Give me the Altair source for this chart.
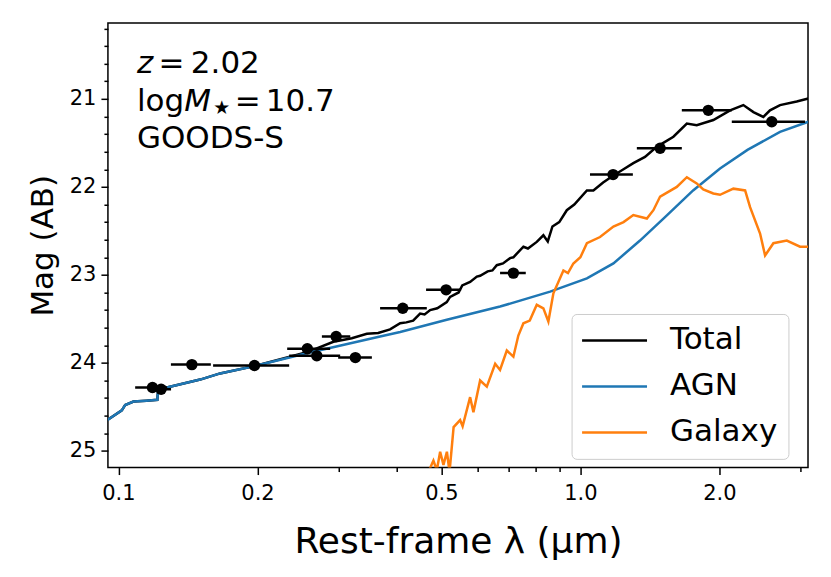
import altair as alt
import pandas as pd

# ---------------- data ----------------
agn_wave = [0.094, 0.1017, 0.1034, 0.1078, 0.1150, 0.1214, 0.1218, 0.1273, 0.1503, 0.166,
            0.1993, 0.2557, 0.3685, 0.4073, 0.5138, 0.6701, 0.860, 1.033, 1.179, 1.346,
            1.541, 1.754, 2.006, 2.30, 2.705, 3.115]
agn_mag = [24.66, 24.54, 24.48, 24.44, 24.43, 24.42, 24.32, 24.28, 24.19, 24.12,
           24.03, 23.89, 23.70, 23.65, 23.51, 23.36, 23.19, 23.04, 22.87, 22.61,
           22.32, 22.04, 21.79, 21.58, 21.375, 21.26]

total_wave = [0.094, 0.1017, 0.1034, 0.1078, 0.1150, 0.1214, 0.1218, 0.1273, 0.1503, 0.166,
              0.1993, 0.2557, 0.2920, 0.3200, 0.3450, 0.3650, 0.3873, 0.4073, 0.4200, 0.4345,
              0.4498, 0.4600, 0.4729, 0.4900, 0.5138, 0.5224, 0.5450, 0.5550, 0.5772, 0.5969,
              0.6067, 0.6300, 0.6450, 0.6592, 0.6800, 0.7043, 0.7161, 0.7528, 0.7700, 0.8046,
              0.8316, 0.8500, 0.8700, 0.9000, 0.9346, 0.9700, 1.033, 1.067, 1.120, 1.179,
              1.240, 1.302, 1.380, 1.463, 1.590, 1.700, 1.786, 1.940, 2.109, 2.253,
              2.369, 2.489, 2.573, 2.705, 2.940, 3.115]
total_mag = [24.66, 24.54, 24.48, 24.44, 24.43, 24.42, 24.32, 24.28, 24.19, 24.12,
             24.03, 23.88, 23.76, 23.72, 23.67, 23.66, 23.62, 23.55, 23.54, 23.52,
             23.44, 23.45, 23.40, 23.38, 23.31, 23.25, 23.20, 23.12, 23.08, 23.02,
             23.01, 22.96, 22.95, 22.89, 22.87, 22.81, 22.80, 22.68, 22.70, 22.625,
             22.55, 22.62, 22.45, 22.40, 22.265, 22.20, 22.04, 22.04, 21.95, 21.87,
             21.80, 21.73, 21.66, 21.545, 21.43, 21.28, 21.30, 21.24, 21.13, 21.07,
             21.15, 21.205, 21.13, 21.07, 21.03, 20.995]

gal_wave = [0.4651, 0.4807, 0.4889, 0.4971, 0.5054, 0.5141, 0.5209, 0.5316, 0.5491, 0.5560,
            0.5772, 0.5868, 0.6067, 0.6273, 0.6540, 0.6700, 0.6930, 0.7161, 0.7340, 0.7528,
            0.7770, 0.8046, 0.8316, 0.8525, 0.8741, 0.9189, 0.9400, 0.9656, 1.000, 1.033,
            1.103, 1.179, 1.240, 1.302, 1.393, 1.439, 1.488, 1.617, 1.700, 1.786,
            1.845, 1.940, 2.006, 2.144, 2.273, 2.330, 2.449, 2.511, 2.617, 2.798,
            2.989, 3.115]
gal_mag = [25.28, 25.11, 25.22, 25.01, 25.16, 25.01, 25.24, 24.73, 24.65, 24.72,
           24.39, 24.56, 24.20, 24.27, 24.01, 24.08, 23.86, 23.93, 23.69, 23.55,
           23.52, 23.34, 23.38, 23.53, 23.21, 22.95, 22.98, 22.87, 22.80, 22.64,
           22.57, 22.45, 22.40, 22.32, 22.36, 22.265, 22.11, 22.00, 21.89, 21.96,
           22.03, 22.075, 22.09, 22.02, 22.04, 22.23, 22.53, 22.78, 22.64, 22.61,
           22.68, 22.68]

pt_wave = [0.1185, 0.1237, 0.1442, 0.1970, 0.2564, 0.2688, 0.2960, 0.3258, 0.4126, 0.5121,
           0.7161, 1.177, 1.488, 1.892, 2.596]
pt_mag = [24.28, 24.30, 24.02, 24.03, 23.84, 23.92, 23.70, 23.94, 23.38, 23.17,
          22.98, 21.86, 21.56, 21.13, 21.26]
pt_lo = [0.1087, 0.1171, 0.1299, 0.1603, 0.2319, 0.2342, 0.2757, 0.2990, 0.3685, 0.4634,
         0.6701, 1.049, 1.325, 1.658, 2.127]
pt_hi = [0.1275, 0.1300, 0.1585, 0.2342, 0.2873, 0.3020, 0.3176, 0.3537, 0.4651, 0.5518,
         0.7617, 1.299, 1.658, 2.127, 3.064]

series_names = ["Total", "AGN", "Galaxy"]
series_colors = ["#000000", "#1f77b4", "#ff7f0e"]

x_domain = [0.0949, 3.11]
y_domain = [20.136, 25.19]
x_ticks = [0.1, 0.2, 0.3, 0.4, 0.5, 0.6, 0.7, 0.8, 0.9, 1, 2, 3]
y_ticks = [round(20.2 + 0.2 * i, 1) for i in range(25)]

# ---------------- chart ----------------
FONT = "DejaVu Sans"
W, H = 700.6, 445

df_total = pd.DataFrame({"wave": total_wave, "mag": total_mag, "series": "Total"})
df_agn = pd.DataFrame({"wave": agn_wave, "mag": agn_mag, "series": "AGN"})
df_gal = pd.DataFrame({"wave": gal_wave, "mag": gal_mag, "series": "Galaxy"})
df_pts = pd.DataFrame({"wave": pt_wave, "mag": pt_mag, "lo": pt_lo, "hi": pt_hi})

major_test = "indexof([0.1,0.2,0.5,1,2], datum.value) >= 0"

xscale = alt.Scale(type="log", domain=x_domain, nice=False)
yscale = alt.Scale(domain=y_domain, reverse=True, nice=False, zero=False)

xaxis = alt.Axis(
    values=x_ticks,
    labelExpr=f"{major_test} ? format(datum.value, '.1f') : ''",
    tickSize={"condition": {"test": major_test, "value": 7}, "value": 4},
    title="Rest-frame λ (μm)",
    titleY=85, titleBaseline="alphabetic",
    labelPadding=8, labelOverlap=False, labelFlush=False,
)
yaxis = alt.Axis(
    values=y_ticks,
    labelExpr="datum.value % 1 == 0 ? format(datum.value, 'd') : ''",
    tickSize={"condition": {"test": "datum.value % 1 == 0", "value": 7}, "value": 4},
    title="Mag (AB)",
    titleX=-55, titleBaseline="alphabetic", titleFontSize=31,
    labelPadding=5, labelOverlap=False, labelFlush=False,
)

color_enc = alt.Color(
    "series:N",
    scale=alt.Scale(domain=series_names, range=series_colors),
    legend=alt.Legend(
        title=None, orient="none", legendX=464, legendY=291.3,
        symbolType="M-2.549,0H2.549", symbolSize=650, symbolStrokeWidth=2.5,
        symbolOffset=16.5,
        labelFontSize=31, labelFont=FONT, labelColor="black", labelOffset=40,
        padding=11, rowPadding=14,
        strokeColor="#cccccc", fillColor="white", cornerRadius=5,
    ),
)

def line_layer(df):
    return alt.Chart(df).mark_line(strokeWidth=2.5, clip=True).encode(
        x=alt.X("wave:Q", scale=xscale, axis=xaxis),
        y=alt.Y("mag:Q", scale=yscale, axis=yaxis),
        color=color_enc,
        order=alt.Order("wave:Q"),
    )

bars = alt.Chart(df_pts).mark_rule(color="black", strokeWidth=2.5, clip=True).encode(
    x=alt.X("lo:Q", scale=xscale, axis=xaxis),
    x2="hi:Q",
    y=alt.Y("mag:Q", scale=yscale, axis=yaxis),
)
points = alt.Chart(df_pts).mark_circle(color="black", size=130, opacity=1).encode(
    x=alt.X("wave:Q", scale=xscale, axis=xaxis),
    y=alt.Y("mag:Q", scale=yscale, axis=yaxis),
)

dummy = pd.DataFrame({"a": [0]})
def label(text, x, y, size=31, style="normal", align="left"):
    return alt.Chart(dummy).mark_text(
        text=text, align=align, baseline="alphabetic", font=FONT,
        fontSize=size, fontStyle=style, color="black",
    ).encode(x=alt.value(x), y=alt.value(y))

annots = [
    label("z", 29, 50.6, style="italic"),
    label("=", 63.5, 50.6, align="center"),
    label("2.02", 83, 50.6),
    label("log", 29, 88),
    label("M", 76.3, 88, style="italic"),
    label("★", 105.5, 91, size=19),
    label("=", 140, 88, align="center"),
    label("10.7", 158, 88),
    label("GOODS-S", 29, 125.6),
]

chart = alt.layer(
    line_layer(df_total), line_layer(df_agn), line_layer(df_gal), bars, points, *annots
).properties(
    width=W, height=H,
    autosize=alt.AutoSizeParams(type="none"),
    padding={"left": 100, "top": 14.7, "right": 15, "bottom": 100},
    background="white",
).configure_view(
    stroke="black", strokeWidth=1.5,
).configure_axis(
    grid=False, domain=False,
    tickColor="black", tickWidth=1.5,
    labelFont=FONT, labelFontSize=21, labelColor="black",
    titleFont=FONT, titleFontSize=36, titleColor="black", titleFontWeight="normal",
)

chart.save("out.html", embed_options={"renderer": "svg", "actions": False})
